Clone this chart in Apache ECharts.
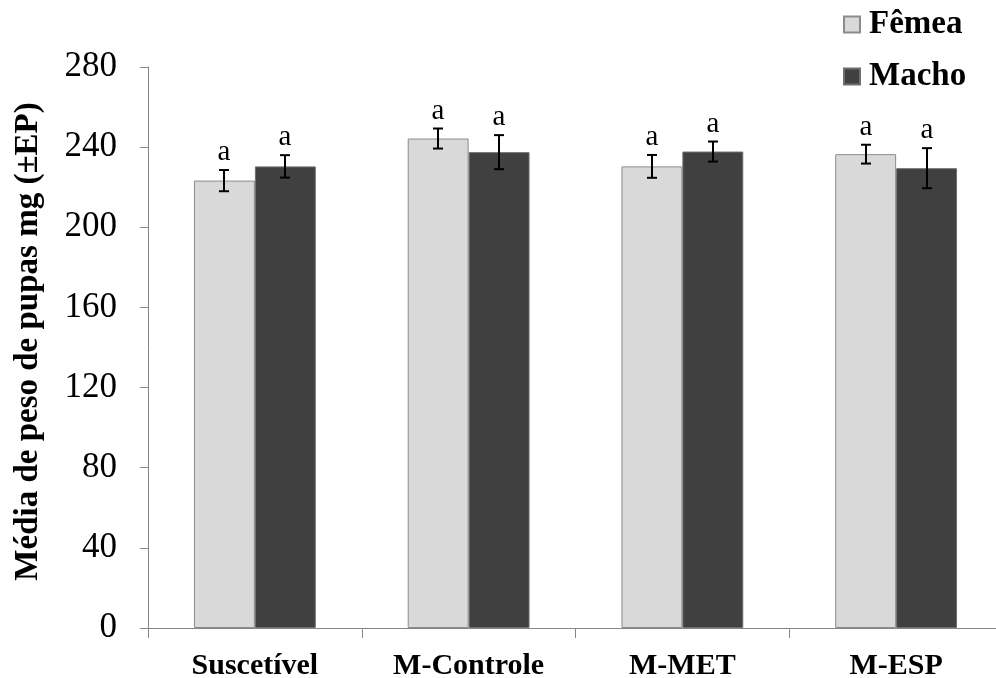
<!DOCTYPE html>
<html>
<head>
<meta charset="utf-8">
<script src="https://cdn.jsdelivr.net/npm/echarts@6/dist/echarts.min.js"></script>
<style>html,body{margin:0;padding:0;background:#fff;overflow:hidden}#c{width:996px;height:678px}</style>
</head>
<body>
<div id="c"></div>
<script>
const categories = ['Suscetível', 'M-Controle', 'M-MET', 'M-ESP'];
const femeaMean = [223.3, 244.3, 230.4, 236.5];
const femeaErr = [5.3, 5.0, 5.7, 4.7];
const machoMean = [230.4, 237.5, 237.8, 229.5];
const machoErr = [5.6, 8.5, 5.0, 10.0];
const femeaLetters = ['a', 'a', 'a', 'a'];
const machoLetters = ['a', 'a', 'a', 'a'];
const yTicks = { min: 0, max: 280, interval: 40 };

const FONT = "'Liberation Serif', 'Times New Roman', serif";
const GAP = 0.43;
const barFrac = (1 - GAP) / 2;

function errSeries(name, means, errs, letters, side) {
  return {
    name: name,
    type: 'custom',
    z: 5,
    clip: false,
    data: means.map((m, i) => [i, m, errs[i], letters[i]]),
    renderItem: function (params, api) {
      const idx = api.value(0), m = api.value(1), e = api.value(2);
      const band = api.size([1, 0])[0];
      const c = api.coord([idx, m]);
      const x = Math.round(c[0] + side * band * barFrac / 2);
      const top = api.coord([idx, m + e])[1];
      const bot = api.coord([idx, m - e])[1];
      const cap = 5;
      const st = { stroke: '#000', lineWidth: 2 };
      return {
        type: 'group',
        children: [
          { type: 'line', shape: { x1: x, y1: top, x2: x, y2: bot }, style: st },
          { type: 'line', shape: { x1: x - cap, y1: top, x2: x + cap, y2: top }, style: st },
          { type: 'line', shape: { x1: x - cap, y1: bot, x2: x + cap, y2: bot }, style: st },
          { type: 'text', x: x, y: top - 3, style: { text: letters[params.dataIndex], fill: '#000', font: '29px ' + FONT, align: 'center', verticalAlign: 'bottom' } }
        ]
      };
    }
  };
}

const chart = echarts.init(document.getElementById('c'), null, { renderer: 'canvas' });
chart.setOption({
  animation: false,
  backgroundColor: '#fff',
  textStyle: { fontFamily: FONT },
  grid: { left: 148, right: -7, top: 67, bottom: 50, containLabel: false, outerBoundsMode: 'none' },
  legend: {
    data: ['Fêmea', 'Macho'],
    orient: 'vertical',
    left: 838,
    top: 3,
    itemWidth: 16,
    itemHeight: 16,
    itemGap: 19,
    icon: 'rect',
    textStyle: { fontFamily: FONT, fontSize: 33, fontWeight: 'bold', color: '#000', lineHeight: 30, padding: [0, 0, 0, 4] }
  },
  xAxis: {
    type: 'category',
    data: categories,
    axisLine: { lineStyle: { color: '#868686', width: 1 } },
    axisTick: { show: true, length: 10, lineStyle: { color: '#868686' } },
    axisLabel: { fontFamily: FONT, fontSize: 30, fontWeight: 'bold', color: '#000', margin: 23 }
  },
  yAxis: {
    type: 'value',
    min: yTicks.min,
    max: yTicks.max,
    interval: yTicks.interval,
    name: 'Média de peso de pupas mg (±EP)',
    nameLocation: 'middle',
    nameGap: 103,
    nameTextStyle: { fontFamily: FONT, fontSize: 33, fontWeight: 'bold', color: '#000', padding: [0, 0, 0, 12] },
    axisLine: { show: true, lineStyle: { color: '#868686', width: 1 } },
    axisTick: { show: true, length: 8, lineStyle: { color: '#868686' } },
    axisLabel: { fontFamily: FONT, fontSize: 35, color: '#000', margin: 31 },
    splitLine: { show: false }
  },
  series: [
    {
      name: 'Fêmea', type: 'bar', data: femeaMean, barGap: '0%', barCategoryGap: (GAP * 100) + '%',
      itemStyle: { color: '#d9d9d9', borderColor: '#8c8c8c', borderWidth: 1 }
    },
    {
      name: 'Macho', type: 'bar', data: machoMean, barGap: '0%', barCategoryGap: (GAP * 100) + '%',
      itemStyle: { color: '#404040', borderColor: '#6e6e6e', borderWidth: 1 }
    },
    errSeries('errF', femeaMean, femeaErr, femeaLetters, -1),
    errSeries('errM', machoMean, machoErr, machoLetters, 1)
  ]
});
</script>
</body>
</html>
